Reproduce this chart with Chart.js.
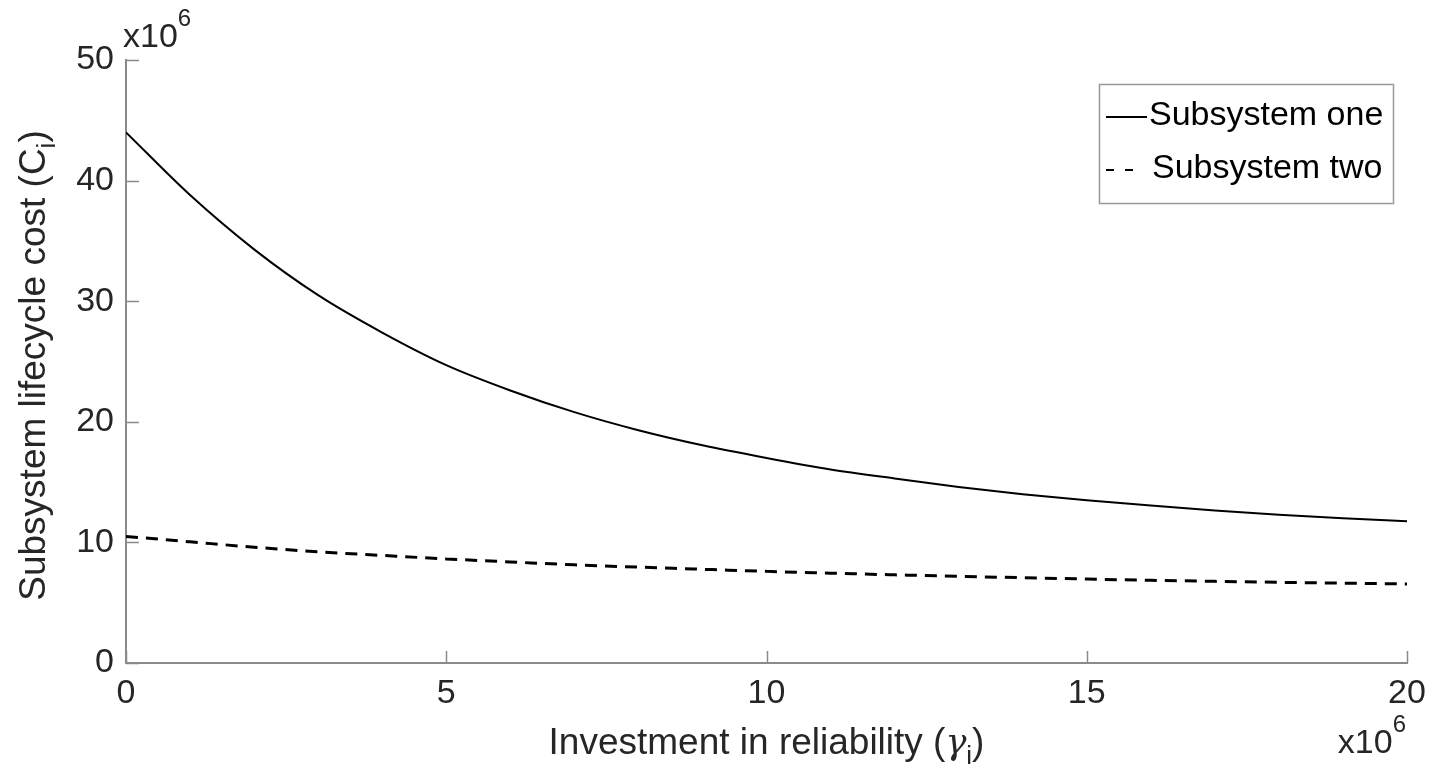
<!DOCTYPE html>
<html>
<head>
<meta charset="UTF-8">
<title>Subsystem lifecycle cost</title>
<script src="https://cdn.jsdelivr.net/npm/chart.js@4.4.1/dist/chart.umd.min.js"></script>
<style>
  html, body { margin: 0; padding: 0; background: #fff; }
  #wrap { width: 1431px; height: 771px; }
</style>
</head>
<body>
<div id="wrap"><canvas id="chart" width="1431" height="771"></canvas></div>
<script>
// values, both axes in units of 10^6
var investment = [0, 1, 2, 3, 4, 5, 6, 7, 8, 9, 10, 11, 12, 13, 14, 15, 16, 17, 18, 19, 20];
var costOne = [44.0, 38.8, 34.3, 30.5, 27.4, 24.7, 22.6, 20.8, 19.3, 18.05, 17.0,
               16.05, 15.3, 14.6, 14.0, 13.5, 13.05, 12.65, 12.3, 12.0, 11.75];
var costTwo = [10.5, 10.05, 9.6, 9.22, 8.92, 8.63, 8.38, 8.14, 7.95, 7.77, 7.6,
               7.45, 7.31, 7.19, 7.07, 6.96, 6.86, 6.77, 6.69, 6.62, 6.55];
var seriesNames = ['Subsystem one', 'Subsystem two'];
var xTicks = [0, 5, 10, 15, 20];
var yTicks = [0, 10, 20, 30, 40, 50];

var FONT   = '"Liberation Sans", Arial, Helvetica, sans-serif';
var TXT    = '#262626';
var AXIS   = '#8a8a8a';

function pts(ys) {
    return investment.map(function (x, i) { return { x: x, y: ys[i] }; });
}

// draws a run of text pieces, some of them sub/superscript
function richText(ctx, parts, x, y, size, align) {
    function fontOf(p) {
        return (p.italic ? 'italic ' : '') + Math.round(size * (p.scale || 1)) + 'px ' + (p.family || FONT);
    }
    var widths = parts.map(function (p) {
        ctx.font = fontOf(p);
        return ctx.measureText(p.t).width;
    });
    var total = widths.reduce(function (a, b) { return a + b; }, 0);
    var cx = align === 'center' ? x - total / 2 : (align === 'right' ? x - total : x);
    ctx.textAlign = 'left';
    ctx.textBaseline = 'alphabetic';
    parts.forEach(function (p, i) {
        ctx.font = fontOf(p);
        ctx.fillText(p.t, cx, y + (p.dy || 0) * size);
        cx += widths[i];
    });
}

var decor = {
    id: 'decor',
    afterDraw: function (chart) {
        var ctx = chart.ctx;
        var xs = chart.scales.x, ys = chart.scales.y;
        var a = chart.chartArea;
        ctx.save();

        // inward tick marks
        ctx.strokeStyle = AXIS;
        ctx.lineWidth = 1.5;
        ctx.beginPath();
        xTicks.forEach(function (v) {
            var px = Math.round(xs.getPixelForValue(v)) + 0.5;
            ctx.moveTo(px, a.bottom); ctx.lineTo(px, a.bottom - 12);
        });
        yTicks.forEach(function (v) {
            var py = Math.round(ys.getPixelForValue(v)) + 0.5;
            ctx.moveTo(a.left, py); ctx.lineTo(a.left + 13, py);
        });
        ctx.stroke();

        ctx.fillStyle = TXT;
        // axis titles
        richText(ctx, [
            { t: 'Investment in reliability (' },
            { t: '\u03b3', italic: true, family: '"DejaVu Serif", serif', scale: 0.95 },
            { t: 'i', scale: 0.7, dy: 0.28 },
            { t: ')' }
        ], (a.left + a.right) / 2, 754, 37, 'center');

        ctx.save();
        ctx.translate(45, (a.top + a.bottom) / 2 + 4);
        ctx.rotate(-Math.PI / 2);
        richText(ctx, [
            { t: 'Subsystem lifecycle cost (C' },
            { t: 'i', scale: 0.7, dy: 0.28 },
            { t: ')' }
        ], 0, 0, 37, 'center');
        ctx.restore();

        // exponent labels
        richText(ctx, [{ t: 'x10' }, { t: '6', scale: 0.72, dy: -0.62 }], 123, 47, 34, 'left');
        richText(ctx, [{ t: 'x10' }, { t: '6', scale: 0.72, dy: -0.62 }], 1406, 753, 34, 'right');

        // legend box
        var bx = 1099, by = 84, bw = 294, bh = 119;
        ctx.fillStyle = '#fff';
        ctx.fillRect(bx, by, bw, bh);
        ctx.strokeStyle = '#999';
        ctx.lineWidth = 1.5;
        ctx.strokeRect(bx + 0.5, by + 0.5, bw, bh);
        var rows = [117, 170];
        chart.data.datasets.forEach(function (ds, i) {
            var dashed = ds.borderDash && ds.borderDash.length;
            ctx.strokeStyle = ds.borderColor;
            ctx.lineWidth = 2;
            ctx.setLineDash(dashed ? [8, 11] : []);
            ctx.beginPath();
            ctx.moveTo(1106, rows[i]);
            ctx.lineTo(dashed ? 1135 : 1147, rows[i]);
            ctx.stroke();
            ctx.setLineDash([]);
            ctx.fillStyle = '#000';
            ctx.font = '34px ' + FONT;
            ctx.textAlign = 'left';
            ctx.textBaseline = 'alphabetic';
            ctx.fillText(ds.label, i === 0 ? 1149 : 1152, rows[i] + 8);
        });
        ctx.restore();
    }
};

new Chart(document.getElementById('chart'), {
    type: 'line',
    data: {
        datasets: [
            { label: seriesNames[0], data: pts(costOne), borderColor: '#000', borderWidth: 2,
              pointRadius: 0, cubicInterpolationMode: 'monotone', fill: false },
            { label: seriesNames[1], data: pts(costTwo), borderColor: '#000', borderWidth: 3,
              borderDash: [12, 8], pointRadius: 0, cubicInterpolationMode: 'monotone', fill: false }
        ]
    },
    options: {
        responsive: false,
        animation: false,
        devicePixelRatio: 1,
        layout: { padding: { left: 0, top: 60, right: 24, bottom: 0 } },
        plugins: { legend: { display: false }, tooltip: { enabled: false } },
        scales: {
            x: {
                type: 'linear', min: 0, max: 20,
                afterBuildTicks: function (s) { s.ticks = xTicks.map(function (v) { return { value: v }; }); },
                afterFit: function (s) { s.height = 108; s.paddingLeft = 0; s.paddingRight = 0; },
                grid: { display: false, drawTicks: false },
                border: { display: true, color: AXIS, width: 2 },
                ticks: { color: TXT, font: { family: FONT, size: 34 }, padding: 10, maxRotation: 0 }
            },
            y: {
                type: 'linear', min: 0, max: 50,
                afterBuildTicks: function (s) { s.ticks = yTicks.map(function (v) { return { value: v }; }); },
                afterFit: function (s) { s.width = 126; s.paddingTop = 0; s.paddingBottom = 0; },
                grid: { display: false, drawTicks: false },
                border: { display: true, color: AXIS, width: 2 },
                ticks: { color: TXT, font: { family: FONT, size: 34 }, padding: 12 }
            }
        }
    },
    plugins: [decor]
});
</script>
</body>
</html>
